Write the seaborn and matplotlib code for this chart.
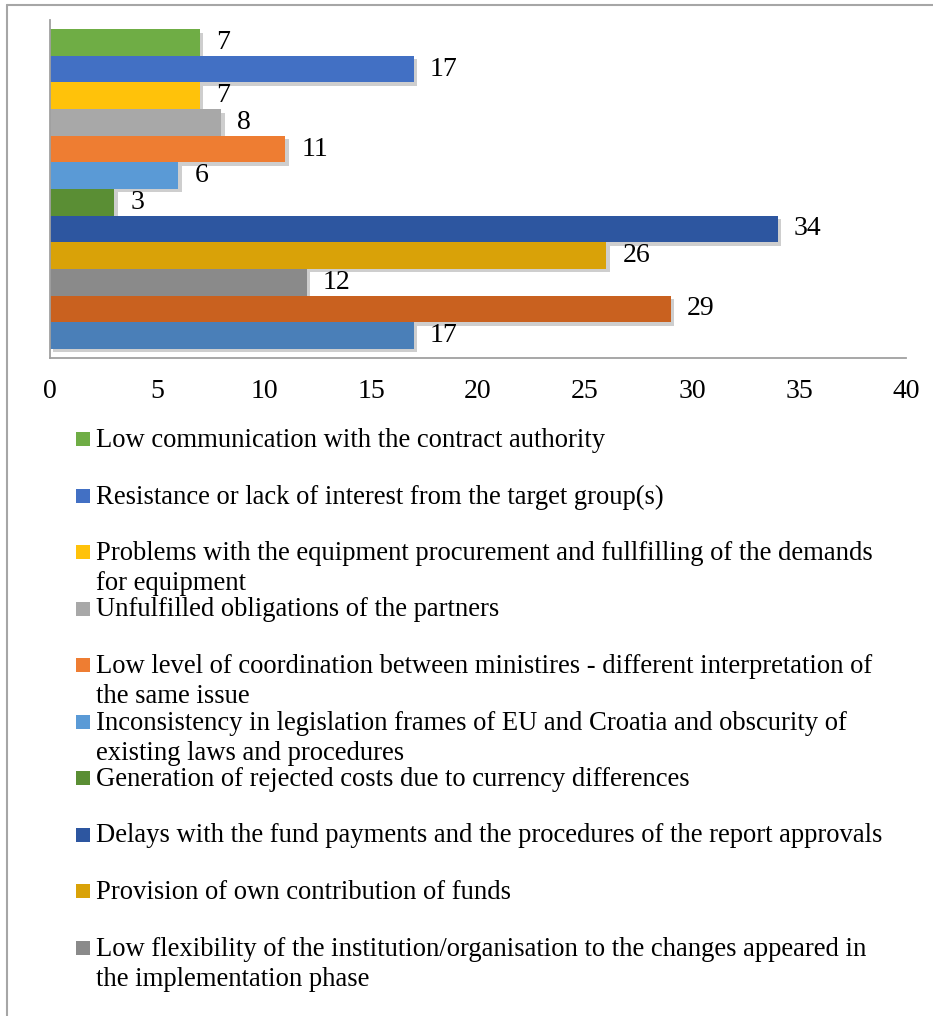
import matplotlib
matplotlib.use("Agg")
import matplotlib.pyplot as plt
import matplotlib.patheffects as pe
from matplotlib.patches import Rectangle
from matplotlib.lines import Line2D
import seaborn as sns
import pandas as pd

# ---- data (top to bottom) ----
categories = [
    "Low communication with the contract authority",
    "Resistance or lack of interest from the target group(s)",
    "Problems with the equipment procurement and fullfilling of the demands\nfor equipment",
    "Unfulfilled obligations of the partners",
    "Low level of coordination between ministires - different interpretation of\nthe same issue",
    "Inconsistency in legislation frames of EU and Croatia and obscurity of\nexisting laws and procedures",
    "Generation of rejected costs due to currency differences",
    "Delays with the fund payments and the procedures of the report approvals",
    "Provision of own contribution of funds",
    "Low flexibility of the institution/organisation to the changes appeared in\nthe implementation phase",
    "Other problem (not visible) 1",
    "Other problem (not visible) 2",
]
values = [7, 17, 7, 8, 11, 6, 3, 34, 26, 12, 29, 17]
colors = ["#6FAD45", "#4270C4", "#FFC20A", "#A8A8A8", "#EE7D32", "#5A9AD6",
          "#5A8E34", "#2D56A0", "#D9A208", "#8A8A8A", "#C9611F", "#4A7FB8"]
xticks = [0, 5, 10, 15, 20, 25, 30, 35, 40]
n_legend_visible = 10

df = pd.DataFrame({"category": categories, "value": values})

sns.set_theme(style="white")
plt.rcParams["font.family"] = ["Liberation Serif", "DejaVu Serif"]

W, H = 933, 1016
fig = plt.figure(figsize=(W / 100, H / 100), dpi=100)
ax = fig.add_axes([50 / W, 1 - 358 / H, (906 - 50) / W, (358 - 20) / H])

sns.barplot(data=df, y="category", x="value", hue="category",
            palette=colors, dodge=False, width=1.0, orient="h",
            legend=False, ax=ax, saturation=1.0)

for p in ax.patches:
    p.set_edgecolor("none")
    p.set_path_effects([pe.SimplePatchShadow(offset=(2.5, -2.5), alpha=0.22, shadow_rgbFace="#202020"),
                        pe.Normal()])

for c in ax.containers:
    ax.bar_label(c, fmt="%d", padding=11.5, fontsize=20, color="black")

ax.set_xlim(0, 40)
ax.set_ylim(len(categories) - 0.5 + 0.34, -0.5 - 0.34)
ax.set_xticks(xticks)
ax.set_xticklabels([str(t) for t in xticks], fontsize=20)
ax.tick_params(axis="x", length=0, pad=15, colors="black")
ax.set_yticks([])
ax.set_xlabel("")
ax.set_ylabel("")
for s in ["top", "right"]:
    ax.spines[s].set_visible(False)
for s in ["left", "bottom"]:
    ax.spines[s].set_color("#A0A0A0")
    ax.spines[s].set_linewidth(1.3)

# outer chart frame (left and top edges visible)
fig.add_artist(Line2D([7 / W, 7 / W], [0, 1 - 5 / H], transform=fig.transFigure,
                      color="#A6A6A6", lw=1.5))
fig.add_artist(Line2D([7 / W, 1], [1 - 5 / H, 1 - 5 / H], transform=fig.transFigure,
                      color="#A6A6A6", lw=1.5))

# legend below the plot
base0 = 447
pitch = 56.5
line_h = 30
for i in range(n_legend_visible):
    yb = base0 + pitch * i
    fig.add_artist(Rectangle((76 / W, 1 - (yb - 1) / H), 14 / W, 14 / H,
                             transform=fig.transFigure, facecolor=colors[i],
                             edgecolor="none"))
    for k, line in enumerate(categories[i].split("\n")):
        fig.text(96 / W, 1 - (yb + k * line_h) / H, line, fontsize=19.2,
                 va="baseline", ha="left", color="black")

fig.savefig("out.png", dpi=100)
